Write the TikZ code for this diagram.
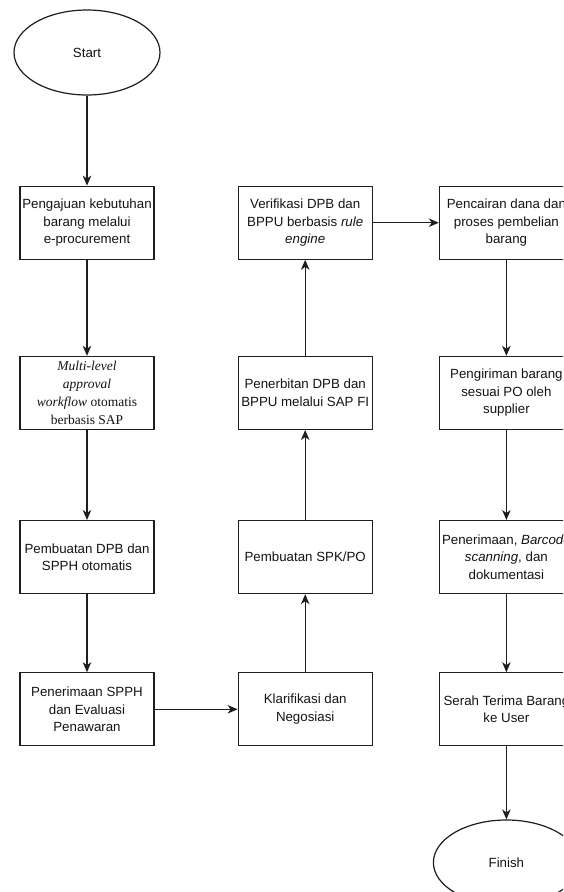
\documentclass[tikz,border=0pt]{standalone}
\usepackage{fontspec}
\setmainfont{Liberation Sans}
\newfontfamily\timesfont{Liberation Serif}
\usepackage{xcolor}
\usepackage{tikz}
\usetikzlibrary{shapes.geometric, arrows.meta, positioning}
\definecolor{linecol}{RGB}{30, 30, 30}
\definecolor{textcol}{RGB}{20, 20, 20}
\tikzset{
  font=\fontsize{13.3}{17.5}\selectfont,
  baseblock/.style={
    rectangle, draw=linecol, fill=white, line width=1.2pt,
    minimum height=73pt, minimum width=134pt,
    inner sep=2pt, align=center, text=textcol
  },
  serifblock/.style={baseblock, font=\timesfont\fontsize{13.5}{18}\selectfont},
  termblock/.style={
    ellipse, draw=linecol, fill=white, line width=1.2pt,
    minimum height=85pt, minimum width=146pt, inner sep=0pt,
    align=center, text=textcol
  },
  flowline/.style={
    draw=linecol, -{Stealth[length=10pt, width=8.5pt, inset=3pt]}, line width=1.1pt
  }
}

\begin{document}
\begin{tikzpicture}
  \useasboundingbox (0pt,0pt) rectangle (563pt,-892pt);
  \clip (0pt,0pt) rectangle (563pt,-892pt);
  \fill[white] (0pt,0pt) rectangle (563pt,-892pt);

  \node[termblock] (start) at (87pt,-52.5pt) {Start};
  \node[baseblock, below=90pt of start] (ajukan) {Pengajuan kebutuhan\\barang melalui\\e-procurement};
  \node[serifblock, below=96pt of ajukan] (approval) {\textit{Multi-level}\\\textit{approval}\\\textit{workflow} otomatis\\berbasis SAP};
  \node[baseblock, below=90pt of approval] (dpb) {Pembuatan DPB dan\\SPPH otomatis};
  \node[baseblock, below=78pt of dpb] (spph) {Penerimaan SPPH\\dan Evaluasi\\Penawaran};

  \node[baseblock, right=83pt of spph] (nego) {Klarifikasi dan\\Negosiasi};
  \node[baseblock, above=78pt of nego] (spk) {Pembuatan SPK/PO};
  \node[baseblock, above=90pt of spk] (terbit) {Penerbitan DPB dan\\BPPU melalui SAP FI};
  \node[baseblock, above=96pt of terbit] (verif) {Verifikasi DPB dan\\BPPU berbasis \textit{rule}\\\textit{engine}};

  \node[baseblock, right=66pt of verif] (cair) {Pencairan dana dan\\proses pembelian\\barang};
  \node[baseblock, below=96pt of cair] (kirim) {Pengiriman barang\\sesuai PO oleh\\supplier};
  \node[baseblock, below=90pt of kirim] (terima) {Penerimaan, \textit{Barcode}\\\textit{scanning}, dan\\dokumentasi};
  \node[baseblock, below=78pt of terima] (serah) {Serah Terima Barang\\ke User};
  \node[termblock, below=73pt of serah] (finish) {Finish};

  \draw[flowline] (start) -- (ajukan);
  \draw[flowline] (ajukan) -- (approval);
  \draw[flowline] (approval) -- (dpb);
  \draw[flowline] (dpb) -- (spph);
  \draw[flowline] (spph) -- (nego);
  \draw[flowline] (nego) -- (spk);
  \draw[flowline] (spk) -- (terbit);
  \draw[flowline] (terbit) -- (verif);
  \draw[flowline] (verif) -- (cair);
  \draw[flowline] (cair) -- (kirim);
  \draw[flowline] (kirim) -- (terima);
  \draw[flowline] (terima) -- (serah);
  \draw[flowline] (serah) -- (finish);
\end{tikzpicture}
\end{document}
